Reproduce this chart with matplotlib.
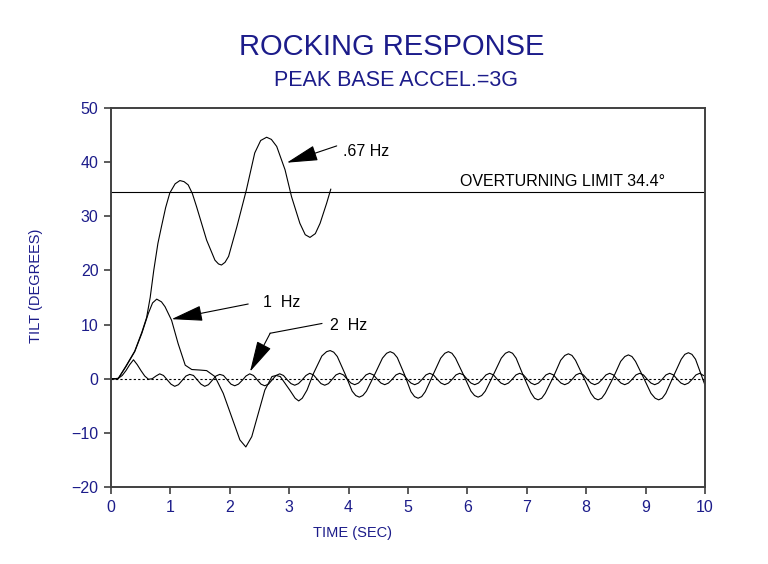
import numpy as np
import matplotlib
matplotlib.use("Agg")
import matplotlib.pyplot as plt
from matplotlib import font_manager

# ---------------- data ----------------
# .67 Hz response (deg)
t_067 = [0.0, 0.12, 0.25, 0.40, 0.52, 0.60, 0.66, 0.72, 0.79, 0.85, 0.92, 0.99, 1.08, 1.16, 1.23,
         1.30, 1.37, 1.44, 1.61, 1.75, 1.81, 1.86, 1.92, 1.98, 2.12, 2.28, 2.42, 2.52, 2.62,
         2.70, 2.79, 2.93, 3.04, 3.18, 3.27, 3.35, 3.44, 3.52, 3.63, 3.70]
y_067 = [0.0, 0.0, 2.3, 5.1, 8.6, 11.3, 15.0, 20.0, 25.0, 28.1, 31.6, 34.3, 36.0, 36.6, 36.4,
         35.8, 34.2, 31.8, 25.6, 21.9, 21.2, 21.0, 21.5, 22.6, 28.1, 34.9, 41.7, 44.0, 44.6,
         44.2, 42.9, 38.6, 33.6, 28.7, 26.6, 26.1, 26.8, 28.7, 32.4, 35.0]

# 1 Hz response (deg)
t_1 = [0.0, 0.12, 0.25, 0.40, 0.52, 0.63, 0.70, 0.77, 0.85, 0.91, 1.02, 1.13, 1.25,
       1.36, 1.50, 1.61, 1.75, 1.89, 2.03, 2.17, 2.27, 2.37, 2.48, 2.59, 2.71, 2.78,
       2.85, 3.01, 3.10, 3.16, 3.22, 3.30, 3.41, 3.55, 3.63, 3.69,
       3.75, 3.81, 3.94, 4.06, 4.12,
       4.18, 4.24, 4.30, 4.44, 4.57, 4.64, 4.70, 4.76, 4.82, 4.94, 5.05, 5.11,
       5.17, 5.23, 5.29, 5.42, 5.55, 5.62, 5.68, 5.74, 5.80, 5.93, 6.06, 6.12,
       6.18, 6.24, 6.30, 6.44, 6.57, 6.64, 6.70, 6.76, 6.82, 6.94, 7.07, 7.13,
       7.19, 7.25, 7.31, 7.45, 7.57, 7.64, 7.70, 7.76, 7.82, 7.95, 8.08, 8.14,
       8.20, 8.26, 8.32, 8.46, 8.58, 8.65, 8.71, 8.77, 8.83, 8.96, 9.09, 9.16,
       9.22, 9.28, 9.34, 9.47, 9.60, 9.66, 9.72, 9.78, 9.84, 9.92, 10.0]
y_1 = [0.0, 0.0, 2.2, 5.0, 8.4, 12.1, 14.0, 14.7, 14.2, 13.3, 10.8, 6.5, 2.5,
       1.7, 1.6, 1.5, 0.4, -2.7, -7.0, -11.3, -12.6, -10.7, -6.4, -2.1, 0.4, 0.6,
       0.4, -2.1, -3.6, -4.1, -3.6, -2.1, 1.0, 4.2, 5.0, 5.2,
       4.9, 4.1, 0.9, -2.3, -3.1,
       -3.4, -3.1, -2.3, 0.8, 3.8, 4.7, 5.0, 4.7, 3.9, 0.8, -2.4, -3.3,
       -3.6, -3.3, -2.4, 0.7, 3.8, 4.7, 5.0, 4.7, 3.8, 0.8, -2.3, -3.1,
       -3.4, -3.1, -2.3, 0.8, 3.8, 4.7, 5.0, 4.7, 3.8, 0.6, -2.6, -3.6,
       -3.9, -3.6, -2.7, 0.4, 3.4, 4.3, 4.6, 4.3, 3.4, 0.4, -2.7, -3.6,
       -3.9, -3.6, -2.7, 0.3, 3.2, 4.1, 4.4, 4.1, 3.2, 0.3, -2.7, -3.6,
       -3.9, -3.6, -2.7, 0.5, 3.6, 4.5, 4.8, 4.5, 3.6, 1.2, -1.2]

# 2 Hz response (deg), sampled every 0.063125 s
DT_2HZ = 0.063125
y_2 = [0.0, 0.0, 0.1, 0.6, 1.5, 2.6, 3.5, 2.6, 1.5, 0.5, -0.1, 0.0, 0.5,
       0.9, 0.6, -0.2, -1.0, -1.4, -1.1, -0.3, 0.5,
       0.8, 0.6, -0.2, -1.0, -1.4, -1.1, -0.3, 0.5,
       0.8, 0.6, -0.2, -1.0, -1.3, -1.0, -0.3, 0.5,
       0.9, 0.6, -0.2, -1.0, -1.3, -1.0, -0.2, 0.6,
       0.9, 0.6, -0.2, -0.9, -1.2, -0.9, -0.2, 0.6,
       1.0, 0.7, -0.1, -0.9, -1.2, -0.9, -0.1, 0.7,
       1.0, 0.7, -0.1, -0.8, -1.1, -0.8, -0.1, 0.7,
       1.0, 0.7, -0.1, -0.8, -1.1, -0.8, -0.1, 0.7,
       1.0, 0.7, -0.1, -0.8, -1.1, -0.8, -0.1, 0.7,
       1.0, 0.7, -0.1, -0.8, -1.1, -0.8, -0.1, 0.7,
       1.0, 0.7, -0.1, -0.8, -1.1, -0.8, -0.1, 0.7,
       1.0, 0.7, -0.1, -0.8, -1.1, -0.8, -0.1, 0.7,
       1.0, 0.7, -0.1, -0.8, -1.1, -0.8, -0.1, 0.7,
       1.0, 0.7, -0.1, -0.8, -1.1, -0.8, -0.1, 0.7,
       1.0, 0.7, -0.1, -0.8, -1.1, -0.8, -0.1, 0.7,
       1.0, 0.7, -0.1, -0.8, -1.1, -0.8, -0.1, 0.7,
       1.0, 0.7, -0.1, -0.8, -1.1, -0.8, -0.1, 0.7,
       1.0, 0.7, -0.1, -0.8, -1.1, -0.8, -0.1, 0.7,
       1.0, 0.6]
t_2 = np.arange(len(y_2)) * DT_2HZ

overturn_limit = 34.4
x_ticks = [0, 1, 2, 3, 4, 5, 6, 7, 8, 9, 10]
y_ticks = [-20, -10, 0, 10, 20, 30, 40, 50]

# ---------------- style ----------------
avail = {f.name for f in font_manager.fontManager.ttflist}
FONT = next((f for f in ["Liberation Sans", "DejaVu Sans"] if f in avail), "DejaVu Sans")
plt.rcParams['font.family'] = [FONT, 'DejaVu Sans']

NAVY = '#1c1c8a'
AXC = '#404040'
LW = 0.8

fig = plt.figure(figsize=(7.68, 5.64), dpi=100)
ax = fig.add_axes([0.1445, 0.1365, 0.7735, 0.672])

ax.plot(t_067, y_067, color='black', lw=LW)
ax.plot(t_1, y_1, color='black', lw=LW)
ax.plot(t_2, y_2, color='black', lw=LW)
ax.axhline(overturn_limit, color='black', lw=LW)
ax.axhline(0, color='black', lw=0.8, ls=(0, (2, 2)))

ax.set_xlim(0, 10)
ax.set_ylim(-20, 50)
ax.set_xticks(x_ticks)
ax.set_yticks(y_ticks)
ax.set_xticklabels([str(v) for v in x_ticks])
ax.set_yticklabels([str(v).replace('-', '\u2212') for v in y_ticks])
ax.tick_params(direction='out', length=5, width=1.2, color=AXC, labelcolor=NAVY,
               labelsize=11.5, pad=4)
for s in ax.spines.values():
    s.set_color(AXC)
    s.set_linewidth(1.4)

ax.set_xlabel('TIME (SEC)', color=NAVY, fontsize=10.5)
ax.xaxis.set_label_coords(0.406, -0.102)
ax.set_ylabel('TILT (DEGREES)', color=NAVY, fontsize=10.5)
ax.yaxis.set_label_coords(-0.115, 0.53)

fig.text(0.51, 0.916, 'ROCKING RESPONSE', color=NAVY, fontsize=21,
         ha='center', va='center')
fig.text(0.515, 0.858, 'PEAK BASE ACCEL.=3G', color=NAVY, fontsize=15.5,
         ha='center', va='center')

# annotations
ax.text(5.88, 36.4, 'OVERTURNING LIMIT 34.4\u00b0', fontsize=11.5, ha='left',
        va='center', color='black')

arrow_kw = dict(arrowstyle='-|>,head_length=1.4,head_width=0.35', color='black',
                lw=LW, shrinkA=0, shrinkB=0, mutation_scale=14)
ax.text(3.91, 42.0, '.67 Hz', fontsize=11.5, ha='left', va='center')
ax.annotate('', xy=(2.96, 39.9), xytext=(3.80, 43.0), arrowprops=arrow_kw)

ax.text(2.56, 14.0, '1  Hz', fontsize=11.5, ha='left', va='center')
ax.annotate('', xy=(1.02, 11.0), xytext=(2.31, 13.8), arrowprops=arrow_kw)

ax.text(3.69, 9.9, '2  Hz', fontsize=11.5, ha='left', va='center')
ax.plot([3.55, 2.68], [10.2, 8.4], color='black', lw=LW)
ax.annotate('', xy=(2.34, 1.3), xytext=(2.68, 8.4), arrowprops=arrow_kw)

fig.savefig('out.png', dpi=100, facecolor='white')
